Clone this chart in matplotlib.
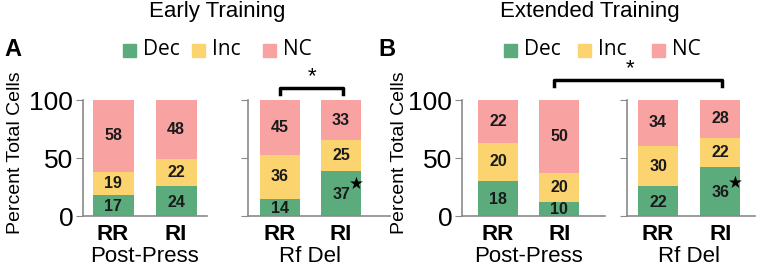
import matplotlib.pyplot as plt
import matplotlib.transforms as mtransforms
import numpy as np

# counts of cells per category (labels drawn in bars), bars normalised to 100 %
groups = ["Post-Press", "Rf Del"]
conds = ["RR", "RI"]
categories = ["Dec", "Inc", "NC"]
colors = ["#5bab7d", "#fbd36f", "#f8a2a2"]

early_dec = [[17, 24], [14, 37]]
early_inc = [[19, 22], [36, 25]]
early_nc = [[58, 48], [45, 33]]

ext_dec = [[18, 10], [22, 36]]
ext_inc = [[20, 20], [30, 22]]
ext_nc = [[22, 50], [34, 28]]

W, H = 775, 269
fig = plt.figure(figsize=(W / 100, H / 100), dpi=100)
plt.rcParams['font.family'] = ['Liberation Sans', 'DejaVu Sans']


def px_axes(left, right, top, bottom):
    return fig.add_axes([left / W, 1 - bottom / H, (right - left) / W, (bottom - top) / H])


def draw_group(ax, dec, inc, nc, xlim, show_labels, starred):
    ax.set_xlim(*xlim)
    ax.set_ylim(0, 100)
    x = np.arange(2)
    vals = np.array([dec, inc, nc], dtype=float)
    pct = vals / vals.sum(axis=0) * 100
    bottom = np.zeros(2)
    for i in range(3):
        ax.bar(x, pct[i], 0.65, bottom=bottom, color=colors[i], zorder=2)
        for j in range(2):
            yc = bottom[j] + pct[i][j] / 2
            if i == 0:
                yc = bottom[j] + pct[i][j] / 2 - 1
            ax.text(x[j], yc, str(int(vals[i][j])), ha='center', va='center',
                    fontsize=11.5, fontweight='bold', color='#1a1a1a', zorder=3)
            if i == 0 and starred and j == 1:
                ax.text(x[j] + 0.25, yc + 9, "★", ha='center', va='center',
                        fontsize=12, color='black', family=['DejaVu Sans'], zorder=3)
        bottom += pct[i]
    for s in ['top', 'right']:
        ax.spines[s].set_visible(False)
    for s in ['left', 'bottom']:
        ax.spines[s].set_color('#8a8a8a')
        ax.spines[s].set_linewidth(1.2)
    ax.set_yticks([0, 50, 100])
    ax.tick_params(axis='y', length=5, color='#8a8a8a', labelsize=19, pad=2,
                   labelleft=show_labels)
    ax.set_xticks(x)
    ax.set_xticklabels(conds, fontsize=16, fontweight='bold')
    ax.tick_params(axis='x', length=0, pad=6)


def bracket(x1, x2, y, star_x):
    fig.add_artist(plt.Line2D([x1 / W, x1 / W, x2 / W, x2 / W],
                              [1 - (y + 6) / H, 1 - y / H, 1 - y / H, 1 - (y + 6) / H],
                              color='black', lw=2.5))
    fig.text(star_x / W, 1 - (y - 11) / H, "*", ha='center', va='center', fontsize=16)


panels = [
    ("Early Training", "A", 4, 24, early_dec, early_inc, early_nc,
     [(83, 207, (-0.476, 1.49)), (248, 390, (-0.52, 1.8))]),
    ("Extended Training", "B", 378, 408, ext_dec, ext_inc, ext_nc,
     [(462, 605, (-0.59, 1.75)), (627, 755, (-0.5, 1.56))]),
]

for title, letter, lx, ylx, dec, inc, nc, specs in panels:
    for g, (l, r, xl) in enumerate(specs):
        ax = px_axes(l, r, 100, 216)
        draw_group(ax, dec[g], inc[g], nc[g], xl, g == 0, g == 1)
        tr = mtransforms.blended_transform_factory(ax.transData, fig.transFigure)
        fig.text(0.5, 1 - 257 / H, groups[g], ha='center', va='center', fontsize=16,
                 transform=tr)
        if g == 0:
            ax.set_ylabel("Percent Total Cells", fontsize=14)
            ax.yaxis.set_label_coords((ylx - l) / (r - l), 0.55)
    fig.text(lx / W, 1 - 50 / H, letter, ha='left', va='center', fontsize=17,
             fontweight='bold')

fig.text(217 / W, 1 - 12 / H, "Early Training", ha='center', va='center', fontsize=16)
fig.text(590 / W, 1 - 12 / H, "Extended Training", ha='center', va='center', fontsize=16)

# legends
for offs in [(123, 192, 263), (504, 578, 652)]:
    for k, xs in enumerate(offs):
        fig.patches.append(plt.Rectangle((xs / W, 1 - 57 / H), 13 / W, 13 / H,
                                         color=colors[k], transform=fig.transFigure))
        fig.text((xs + 20) / W, 1 - 50 / H, categories[k], ha='left', va='center',
                 fontsize=15, family=['Open Sans', 'DejaVu Sans'])

bracket(280, 343, 88, 312)
bracket(554, 722, 80, 630)

fig.savefig("out.png", dpi=100)
